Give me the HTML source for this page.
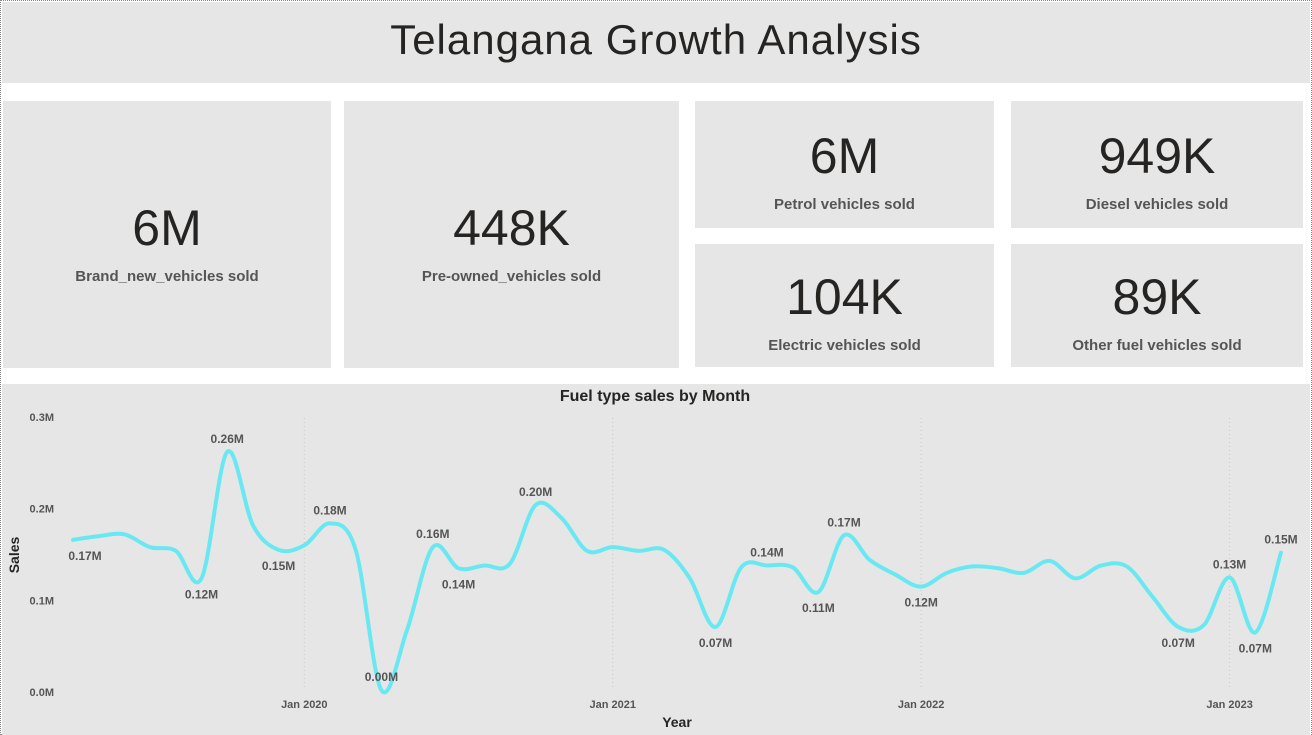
<!DOCTYPE html>
<html><head><meta charset="utf-8">
<style>
body{margin:0;width:1312px;height:735px;background:#fff;font-family:"Liberation Sans",sans-serif;position:relative;overflow:hidden}
.frame{position:absolute;left:0;top:0;width:1310px;height:733px;border:1px dotted #888;pointer-events:none}
.p{position:absolute;background:#e6e6e6}
.title{left:2px;top:2px;width:1308px;height:81px;text-align:center;font-size:42px;line-height:76px;color:#252423;letter-spacing:1px}
.card{display:flex;flex-direction:column;align-items:center;justify-content:center;color:#252423}
.card .v{font-size:50px;line-height:52px}
.card .l{font-size:15px;font-weight:bold;color:#555;margin-top:14px}
</style></head><body>
<div class="frame"></div>
<div class="p title">Telangana Growth Analysis</div>
<div class="p card" style="left:3px;top:101px;width:328px;height:267px"><div class="v" style="margin-top:18px">6M</div><div class="l">Brand_new_vehicles sold</div></div>
<div class="p card" style="left:344px;top:101px;width:335px;height:267px"><div class="v" style="margin-top:18px">448K</div><div class="l">Pre-owned_vehicles sold</div></div>
<div class="p card" style="left:695px;top:101px;width:299px;height:127px"><div class="v" style="margin-top:14px">6M</div><div class="l">Petrol vehicles sold</div></div>
<div class="p card" style="left:1011px;top:101px;width:292px;height:127px"><div class="v" style="margin-top:14px">949K</div><div class="l">Diesel vehicles sold</div></div>
<div class="p card" style="left:695px;top:244px;width:299px;height:123px"><div class="v" style="margin-top:14px">104K</div><div class="l">Electric vehicles sold</div></div>
<div class="p card" style="left:1011px;top:244px;width:292px;height:123px"><div class="v" style="margin-top:14px">89K</div><div class="l">Other fuel vehicles sold</div></div>
<div class="p" style="left:2px;top:384px;width:1308px;height:351px"></div>
<svg id="chart" width="1312" height="735" style="position:absolute;left:0;top:0"></svg>
<script>
const values=[0.166,0.170,0.172,0.158,0.154,0.124,0.262,0.182,0.155,0.160,0.184,0.155,0.002,0.068,0.158,0.135,0.138,0.140,0.204,0.190,0.154,0.158,0.154,0.155,0.124,0.071,0.136,0.138,0.136,0.109,0.171,0.144,0.128,0.115,0.130,0.137,0.135,0.130,0.143,0.124,0.138,0.137,0.104,0.071,0.073,0.125,0.065,0.152];
const labeled=[[0,'0.17M',1],[5,'0.12M',1],[6,'0.26M',0],[8,'0.15M',1],[10,'0.18M',0],[12,'0.00M',0],[14,'0.16M',0],[15,'0.14M',1],[18,'0.20M',0],[25,'0.07M',1],[27,'0.14M',0],[29,'0.11M',1],[30,'0.17M',0],[33,'0.12M',1],[43,'0.07M',1],[45,'0.13M',0],[46,'0.07M',1],[47,'0.15M',0]];
const yTicks=[0,0.1,0.2,0.3];
const yTickLabels=['0.0M','0.1M','0.2M','0.3M'];
const xTickIdx=[9,21,33,45];
const xTickLabels=['Jan 2020','Jan 2021','Jan 2022','Jan 2023'];
const svg=document.getElementById('chart');const NS='http://www.w3.org/2000/svg';
const X=i=>73+i*(1281-73)/47;const Y=v=>692-v*(692-417)/0.3;
function mk(t,a,txt){const e=document.createElementNS(NS,t);for(const k in a)e.setAttribute(k,a[k]);if(txt!==undefined)e.textContent=txt;svg.appendChild(e);return e;}
const st='font-family:Liberation Sans,sans-serif;font-weight:bold;';
let e=mk('text',{x:655,y:401,'text-anchor':'middle','font-size':16,fill:'#252423',style:st},'Fuel type sales by Month');


yTicks.forEach((v,k)=>{const t=mk('text',{x:54,y:Y(v)+4,'text-anchor':'end','font-size':11,fill:'#555',style:st},yTickLabels[k]);

});
xTickIdx.forEach((i,k)=>{const g=mk('line',{x1:X(i),x2:X(i),y1:418,y2:690,stroke:'#c8c8c8','stroke-dasharray':'1,3'});


const t=mk('text',{x:X(i),y:708,'text-anchor':'middle','font-size':11,fill:'#555',style:st},xTickLabels[k]);

});
e=mk('text',{x:677,y:727,'text-anchor':'middle','font-size':14,fill:'#252423',style:st},'Year');


e=mk('text',{x:0,y:0,'text-anchor':'middle','font-size':14,fill:'#252423',style:st,transform:'translate(19,555) rotate(-90)'},'Sales');


const pts=values.map((v,i)=>[X(i),Y(v)]);
let d='M'+pts[0][0]+','+pts[0][1];
for(let i=0;i<pts.length-1;i++){const p0=pts[Math.max(0,i-1)],p1=pts[i],p2=pts[i+1],p3=pts[Math.min(pts.length-1,i+2)];
d+=` C${p1[0]+(p2[0]-p0[0])/6},${p1[1]+(p2[1]-p0[1])/6} ${p2[0]-(p3[0]-p1[0])/6},${p2[1]-(p3[1]-p1[1])/6} ${p2[0]},${p2[1]}`;}
e=mk('path',{d:d,fill:'none',stroke:'#6ae8f2','stroke-width':4,'stroke-linecap':'round'});


labeled.forEach(([i,t,below])=>{const l=mk('text',{x:X(i)+(i===0?12:0),y:below?Y(values[i])+20:Y(values[i])-9,'text-anchor':'middle','font-size':12,fill:'#555',style:st},t);

});
</script>
</body></html>
